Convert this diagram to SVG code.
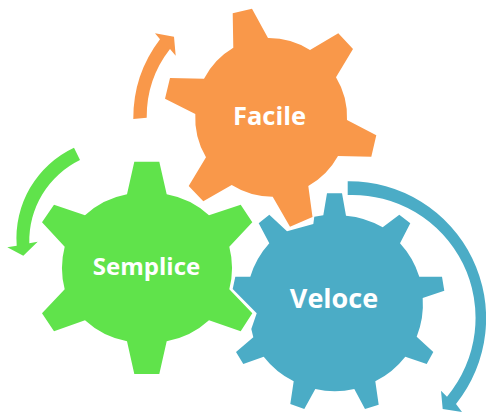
<svg xmlns="http://www.w3.org/2000/svg" width="486" height="414" viewBox="0 0 486 414">
<style>
.o{fill:#F9984A}.g{fill:#60E34B}.b{fill:#4BACC6}
text{fill:#fff;font-family:"Open Sans","Liberation Sans",sans-serif;font-weight:700;font-size:24px;text-anchor:middle}
</style>
<rect width="486" height="414" fill="#fff"/>
<g id="semplice">
<path class="g" d="M134.3 161.7H159.3L166.7 194.3A85 85 0 0 1 209 215.3L240.7 204.7L252.3 222.3L229.3 246.7A85 85 0 0 1 229.3 289.3L252.3 313.3L240.7 331.3L209 320.3A85 85 0 0 1 166.7 341.3L159.3 374H134.3L127 341.3A85 85 0 0 1 85 320.3L54 331.3L42 313.3L64.7 289.3A85 85 0 0 1 64.7 246.7L42 222.3L54 204.7L85 215.3A85 85 0 0 1 127 194.3Z"/>
<text x="146.500" y="275">Semplice</text>
</g>
<g id="facile">
<path class="o" d="M232.7 13.3L252 8.7L268 38A77 77 0 0 1 310 50L338.3 33.3L353 49L336 77.3A77 77 0 0 1 347 120L376.3 135.3L371.3 156.7L338 156A77 77 0 0 1 308.3 186L312.5 217L290 226.7L272.7 196.7A77 77 0 0 1 231.7 185L203.3 201.3L188.7 186L206 157.3A77 77 0 0 1 195.3 114L165 98.7L170 78L204 78.7A77 77 0 0 1 233.3 47.7Z"/>
<text x="269.500" y="125" style="font-size:25.500px">Facile</text>
</g>
<g id="veloce">
<path class="b" d="M327 193.3H342L346 215.7A88 88 0 0 1 382.7 227.3L399.3 214.7L410.3 223.3L400 243.3A88 88 0 0 1 419.3 276.7H442L444.3 290.7L422.7 298A88 88 0 0 1 416.7 336.7L433.3 352L426.7 364L405.3 356.7A88 88 0 0 1 375.3 381.3L378.7 404.7L365 409L354.3 389A88 88 0 0 1 315.3 389L304.3 409L290.3 404L293.7 381.3A88 88 0 0 1 263.7 356.7L243.3 364L236 352L253.3 337.3L251.3 329L256.7 313.3L232.7 289L235.3 276.7H250.3A88 88 0 0 1 269.3 243.3L258.7 223.3L269.3 214.7L287 231.3L313.3 224L314.3 216.7L323.3 215.3Z"/>
<text x="334" y="308" style="font-size:27px">Veloce</text>
</g>
<g id="connectors">
<path class="o" d="M133.3 119A130 130 0 0 1 160 39.3L155 33.3L174 36.7L175.7 55.7L170 49A110 110 0 0 0 146.7 117.7Z"/>
<path class="g" d="M74 147.7L80 160A90 90 0 0 0 29.3 243.3L37.7 241.7L23.3 255.7L7.3 247.3L16.7 245.7A100 100 0 0 1 74 147.7Z"/>
<path class="b" d="M347.7 181.3A137 137 0 0 1 456 404L462 412L442.7 409L441 390.7L447 396.7A123 123 0 0 0 347.7 195Z"/>
</g>
</svg>
